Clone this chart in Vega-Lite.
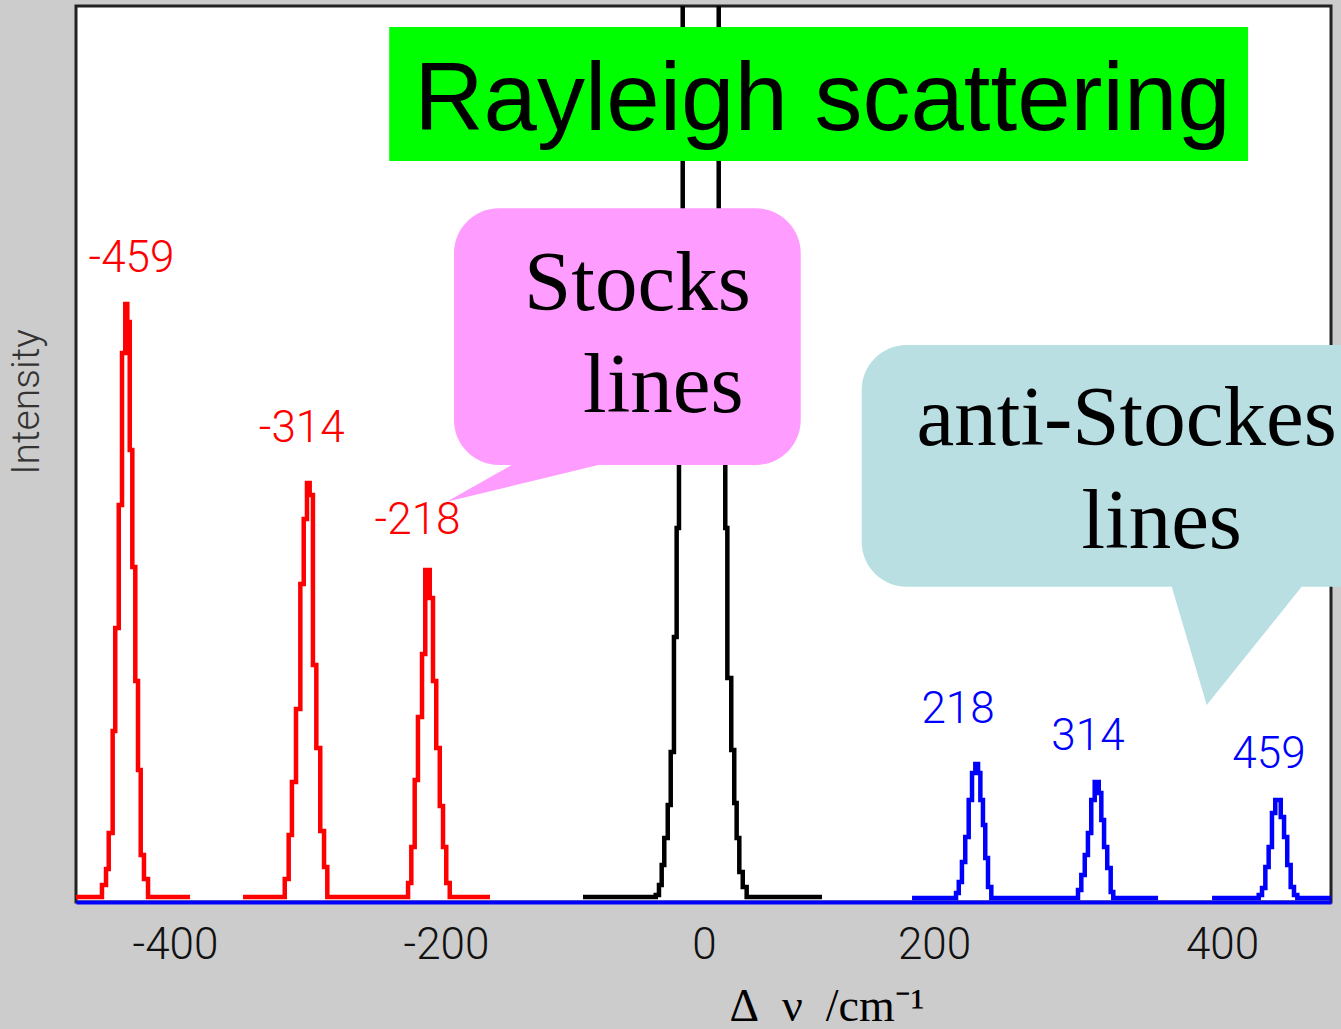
{
  "$schema": "https://vega.github.io/schema/vega-lite/v6.json",
  "width": 1255,
  "height": 896,
  "autosize": {"type": "none"},
  "padding": {"left": 76, "top": 6, "right": 10, "bottom": 127},
  "background": "#cccccc",
  "config": {
    "view": {"fill": "#ffffff", "stroke": "#222222", "strokeWidth": 3}
  },
  "datasets": {
    "traces": [
      {"t": "r1", "s": "S", "x": -473.1, "y": 5},
      {"t": "r1", "s": "S", "x": -453.9, "y": 17},
      {"t": "r1", "s": "S", "x": -450.9, "y": 33},
      {"t": "r1", "s": "S", "x": -448.9, "y": 69},
      {"t": "r1", "s": "S", "x": -446.0, "y": 171},
      {"t": "r1", "s": "S", "x": -444.1, "y": 274},
      {"t": "r1", "s": "S", "x": -441.5, "y": 397},
      {"t": "r1", "s": "S", "x": -439.1, "y": 549},
      {"t": "r1", "s": "S", "x": -436.7, "y": 598},
      {"t": "r1", "s": "S", "x": -435.2, "y": 580},
      {"t": "r1", "s": "S", "x": -433.4, "y": 452},
      {"t": "r1", "s": "S", "x": -431.5, "y": 335},
      {"t": "r1", "s": "S", "x": -429.3, "y": 221},
      {"t": "r1", "s": "S", "x": -427.3, "y": 132},
      {"t": "r1", "s": "S", "x": -425.3, "y": 47},
      {"t": "r1", "s": "S", "x": -422.9, "y": 23},
      {"t": "r1", "s": "S", "x": -419.9, "y": 5},
      {"t": "r1", "s": "S", "x": -388.9, "y": 5},

      {"t": "r2", "s": "S", "x": -349.8, "y": 5},
      {"t": "r2", "s": "S", "x": -319.0, "y": 23},
      {"t": "r2", "s": "S", "x": -316.1, "y": 67},
      {"t": "r2", "s": "S", "x": -313.7, "y": 120},
      {"t": "r2", "s": "S", "x": -310.7, "y": 193},
      {"t": "r2", "s": "S", "x": -307.5, "y": 318},
      {"t": "r2", "s": "S", "x": -305.0, "y": 383},
      {"t": "r2", "s": "S", "x": -302.6, "y": 419},
      {"t": "r2", "s": "S", "x": -300.6, "y": 407},
      {"t": "r2", "s": "S", "x": -298.2, "y": 237},
      {"t": "r2", "s": "S", "x": -295.7, "y": 154},
      {"t": "r2", "s": "S", "x": -292.8, "y": 71},
      {"t": "r2", "s": "S", "x": -290.0, "y": 35},
      {"t": "r2", "s": "S", "x": -287.6, "y": 5},
      {"t": "r2", "s": "S", "x": -228.0, "y": 19},
      {"t": "r2", "s": "S", "x": -225.6, "y": 55},
      {"t": "r2", "s": "S", "x": -223.1, "y": 122},
      {"t": "r2", "s": "S", "x": -220.7, "y": 185},
      {"t": "r2", "s": "S", "x": -217.7, "y": 248},
      {"t": "r2", "s": "S", "x": -215.3, "y": 332},
      {"t": "r2", "s": "S", "x": -212.0, "y": 304},
      {"t": "r2", "s": "S", "x": -209.6, "y": 221},
      {"t": "r2", "s": "S", "x": -207.2, "y": 154},
      {"t": "r2", "s": "S", "x": -204.6, "y": 96},
      {"t": "r2", "s": "S", "x": -202.2, "y": 55},
      {"t": "r2", "s": "S", "x": -199.8, "y": 19},
      {"t": "r2", "s": "S", "x": -197.1, "y": 5},
      {"t": "r2", "s": "S", "x": -165.9, "y": 5},

      {"t": "k", "s": "R", "x": -93.8, "y": 5},
      {"t": "k", "s": "R", "x": -37.4, "y": 7},
      {"t": "k", "s": "R", "x": -34.9, "y": 17},
      {"t": "k", "s": "R", "x": -32.8, "y": 37},
      {"t": "k", "s": "R", "x": -30.8, "y": 64},
      {"t": "k", "s": "R", "x": -28.1, "y": 97},
      {"t": "k", "s": "R", "x": -25.8, "y": 150},
      {"t": "k", "s": "R", "x": -23.3, "y": 265},
      {"t": "k", "s": "R", "x": -21.2, "y": 374},
      {"t": "k", "s": "R", "x": -19.4, "y": 572},
      {"t": "k", "s": "R", "x": -16.5, "y": 1102},
      {"t": "k", "s": "R", "x": 12.8, "y": 652},
      {"t": "k", "s": "R", "x": 15.7, "y": 502},
      {"t": "k", "s": "R", "x": 18.5, "y": 374},
      {"t": "k", "s": "R", "x": 20.3, "y": 224},
      {"t": "k", "s": "R", "x": 23.7, "y": 152},
      {"t": "k", "s": "R", "x": 26.3, "y": 99},
      {"t": "k", "s": "R", "x": 28.4, "y": 64},
      {"t": "k", "s": "R", "x": 30.7, "y": 30},
      {"t": "k", "s": "R", "x": 33.7, "y": 15},
      {"t": "k", "s": "R", "x": 37.1, "y": 5},
      {"t": "k", "s": "R", "x": 102.6, "y": 5},

      {"t": "b1", "s": "A", "x": 180.9, "y": 4},
      {"t": "b1", "s": "A", "x": 215.3, "y": 9},
      {"t": "b1", "s": "A", "x": 217.2, "y": 20},
      {"t": "b1", "s": "A", "x": 219.4, "y": 40},
      {"t": "b1", "s": "A", "x": 221.7, "y": 65},
      {"t": "b1", "s": "A", "x": 224.1, "y": 102},
      {"t": "b1", "s": "A", "x": 226.4, "y": 129},
      {"t": "b1", "s": "A", "x": 228.7, "y": 138},
      {"t": "b1", "s": "A", "x": 230.6, "y": 129},
      {"t": "b1", "s": "A", "x": 232.2, "y": 102},
      {"t": "b1", "s": "A", "x": 234.0, "y": 77},
      {"t": "b1", "s": "A", "x": 235.6, "y": 44},
      {"t": "b1", "s": "A", "x": 237.5, "y": 15},
      {"t": "b1", "s": "A", "x": 239.8, "y": 4},
      {"t": "b1", "s": "A", "x": 300.0, "y": 12},
      {"t": "b1", "s": "A", "x": 302.3, "y": 27},
      {"t": "b1", "s": "A", "x": 304.7, "y": 47},
      {"t": "b1", "s": "A", "x": 306.9, "y": 69},
      {"t": "b1", "s": "A", "x": 309.2, "y": 102},
      {"t": "b1", "s": "A", "x": 311.6, "y": 120},
      {"t": "b1", "s": "A", "x": 314.4, "y": 109},
      {"t": "b1", "s": "A", "x": 316.2, "y": 82},
      {"t": "b1", "s": "A", "x": 318.1, "y": 55},
      {"t": "b1", "s": "A", "x": 320.3, "y": 34},
      {"t": "b1", "s": "A", "x": 322.7, "y": 10},
      {"t": "b1", "s": "A", "x": 324.5, "y": 4},
      {"t": "b1", "s": "A", "x": 355.6, "y": 4},

      {"t": "b2", "s": "A", "x": 393.1, "y": 4},
      {"t": "b2", "s": "A", "x": 425.5, "y": 7},
      {"t": "b2", "s": "A", "x": 427.8, "y": 14},
      {"t": "b2", "s": "A", "x": 430.1, "y": 35},
      {"t": "b2", "s": "A", "x": 432.4, "y": 55},
      {"t": "b2", "s": "A", "x": 434.7, "y": 89},
      {"t": "b2", "s": "A", "x": 437.0, "y": 102},
      {"t": "b2", "s": "A", "x": 440.8, "y": 85},
      {"t": "b2", "s": "A", "x": 443.1, "y": 65},
      {"t": "b2", "s": "A", "x": 445.3, "y": 37},
      {"t": "b2", "s": "A", "x": 447.7, "y": 15},
      {"t": "b2", "s": "A", "x": 450.0, "y": 7},
      {"t": "b2", "s": "A", "x": 452.3, "y": 4},
      {"t": "b2", "s": "A", "x": 475.7, "y": 4}
    ],
    "peaklabels": [
      {"s": "S", "x": -432.1, "y": 630, "label": "-459"},
      {"s": "S", "x": -306.5, "y": 460, "label": "-314"},
      {"s": "S", "x": -221.0, "y": 368, "label": "-218"},
      {"s": "A", "x": 216.7, "y": 179, "label": "218"},
      {"s": "A", "x": 306.9, "y": 152, "label": "314"},
      {"s": "A", "x": 432.6, "y": 134, "label": "459"}
    ],
    "greenbox": [{"x": -241.9, "x2": 418.1, "y": 875, "y2": 741}],
    "pinkbox": [{"x": -193.8, "x2": 84.1, "y": 693.7, "y2": 437}],
    "pinktail": [
      {"x": -199.5, "y": 400.3, "y2": 400.3},
      {"x": -149.1, "y": 437, "y2": 416},
      {"x": -81.9, "y": 445, "y2": 437}
    ],
    "cyanbox": [{"x": 137.1, "x2": 523.6, "y": 557, "y2": 315.3}],
    "cyantail": [
      {"x": 365.1, "y": 322, "y2": 315.3},
      {"x": 389.4, "y": 322, "y2": 197},
      {"x": 455.3, "y": 322, "y2": 315.3}
    ],
    "rayleigh": [{"x": 103.0, "y": 772, "label": "Rayleigh scattering"}],
    "serifnotes": [
      {"x": -51.6, "y": 592, "label": "Stocks"},
      {"x": -31.5, "y": 490, "label": "lines"},
      {"x": 333.8, "y": 457, "label": "anti-Stockes"},
      {"x": 358.1, "y": 353.7, "label": "lines"}
    ]
  },
  "encoding": {
    "x": {
      "field": "x",
      "type": "quantitative",
      "scale": {
        "type": "linear",
        "domain": [-473.06, -400, -200, 0, 200, 400, 475.7],
        "range": [0, 99, 370, 628, 858, 1146, 1255],
        "nice": false,
        "zero": false
      },
      "axis": {
        "values": [-400, -200, 0, 200, 400],
        "labelExpr": "replace(datum.label, '−', '-')",
        "grid": false,
        "ticks": false,
        "tickSize": 0,
        "domain": true,
        "domainColor": "#0000ff",
        "domainWidth": 4,
        "labelFont": "Roboto",
        "labelFontWeight": 300,
        "labelFontSize": 44,
        "labelColor": "#111111",
        "labelPadding": 21,
        "labelFlush": false,
        "labelOverlap": false,
        "title": "Δ\u00a0\u00a0ν\u00a0\u00a0/cm⁻¹",
        "titleFont": "Liberation Serif",
        "titleFontSize": 46,
        "titleFontWeight": "normal",
        "titleColor": "#000000",
        "titleAlign": "center",
        "titleBaseline": "alphabetic",
        "titleX": 750.5,
        "titleY": 118,
        "zindex": 1
      }
    },
    "y": {
      "field": "y",
      "type": "quantitative",
      "scale": {"domain": [0, 896], "nice": false, "zero": false},
      "axis": {
        "labels": false,
        "ticks": false,
        "domain": false,
        "grid": false,
        "title": "Intensity",
        "titleFont": "Roboto",
        "titleFontSize": 39,
        "titleFontWeight": 300,
        "titleColor": "#333333",
        "titleAngle": 270,
        "titleAlign": "center",
        "titleBaseline": "alphabetic",
        "titleX": -37.7,
        "titleY": 395.5
      }
    }
  },
  "layer": [
    {
      "data": {"name": "traces"},
      "mark": {"type": "line", "interpolate": "step-after", "strokeWidth": 4.5, "strokeJoin": "miter", "strokeCap": "butt", "clip": true},
      "encoding": {
        "detail": {"field": "t", "type": "nominal"},
        "color": {"field": "s", "type": "nominal", "scale": {"domain": ["S", "R", "A"], "range": ["#ff0000", "#000000", "#0000ff"]}, "legend": null}
      }
    },
    {
      "data": {"name": "peaklabels"},
      "mark": {"type": "text", "font": "Roboto", "fontWeight": 300, "fontSize": 44, "align": "center", "baseline": "alphabetic"},
      "encoding": {
        "text": {"field": "label"},
        "color": {"field": "s", "type": "nominal", "scale": {"domain": ["S", "R", "A"], "range": ["#ff0000", "#000000", "#0000ff"]}, "legend": null}
      }
    },
    {
      "data": {"name": "greenbox"},
      "mark": {"type": "rect", "color": "#00ff00"},
      "encoding": {"x2": {"field": "x2"}, "y2": {"field": "y2"}}
    },
    {
      "data": {"name": "pinktail"},
      "mark": {"type": "area", "color": "#ff9cff", "opacity": 1},
      "encoding": {"y2": {"field": "y2"}}
    },
    {
      "data": {"name": "pinkbox"},
      "mark": {"type": "rect", "color": "#ff9cff", "cornerRadius": 45},
      "encoding": {"x2": {"field": "x2"}, "y2": {"field": "y2"}}
    },
    {
      "data": {"name": "cyantail"},
      "mark": {"type": "area", "color": "#b9dfe3", "opacity": 1},
      "encoding": {"y2": {"field": "y2"}}
    },
    {
      "data": {"name": "cyanbox"},
      "mark": {"type": "rect", "color": "#b9dfe3", "cornerRadius": 45},
      "encoding": {"x2": {"field": "x2"}, "y2": {"field": "y2"}}
    },
    {
      "data": {"name": "rayleigh"},
      "mark": {"type": "text", "font": "Liberation Sans", "fontSize": 96, "align": "center", "baseline": "alphabetic", "color": "#000000"},
      "encoding": {"text": {"field": "label"}}
    },
    {
      "data": {"name": "serifnotes"},
      "mark": {"type": "text", "font": "Liberation Serif", "fontSize": 85, "align": "center", "baseline": "alphabetic", "color": "#000000"},
      "encoding": {"text": {"field": "label"}}
    }
  ]
}
